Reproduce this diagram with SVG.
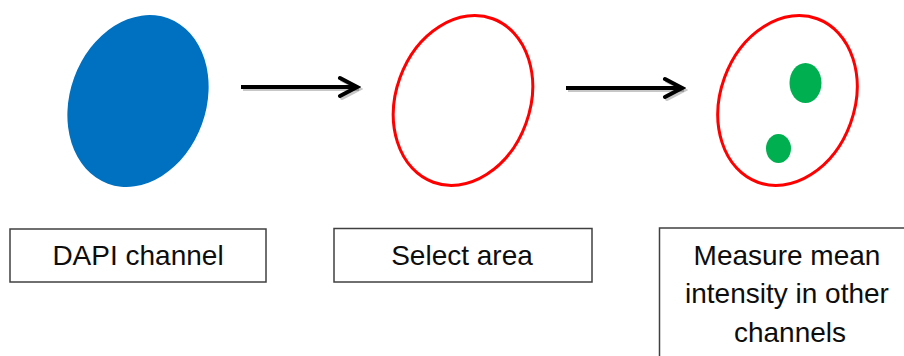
<svg xmlns="http://www.w3.org/2000/svg" width="904" height="356" viewBox="0 0 904 356">
  <defs>
    <marker id="head" viewBox="0 0 24 24" refX="20" refY="12" markerWidth="24" markerHeight="24" markerUnits="userSpaceOnUse" orient="auto">
      <path d="M3,3 L20,12 L3,21" fill="none" stroke="#000" stroke-width="4" stroke-linecap="round" stroke-linejoin="miter"/>
    </marker>
    <marker id="headShadow" viewBox="0 0 24 24" refX="20" refY="12" markerWidth="24" markerHeight="24" markerUnits="userSpaceOnUse" orient="auto">
      <path d="M3,3 L20,12 L3,21" fill="none" stroke="#000" stroke-opacity="0.22" stroke-width="4" stroke-linecap="round" stroke-linejoin="miter"/>
    </marker>
  </defs>
  <style>
    .label { fill: #ffffff; stroke: #404040; stroke-width: 1.5; }
    .txt { font-family: "Liberation Sans", Arial, sans-serif; font-size: 28px; fill: #0d0d0d; text-anchor: middle; }
    .roi { fill: none; stroke: #ff0000; stroke-width: 3; }
    .spot { fill: #00b050; }
    .arrow { stroke: #000; stroke-width: 4; fill: none; marker-end: url(#head); }
    .arrowShadow { stroke: #000; stroke-opacity: 0.22; stroke-width: 4; fill: none; marker-end: url(#headShadow); }
  </style>
  <rect width="904" height="356" fill="#ffffff"/>

  <g id="dapi">
    <ellipse cx="138" cy="101" rx="68" ry="88" transform="rotate(20 138 101)" fill="#0070c0"/>
    <rect class="label" x="10" y="229" width="256" height="53"/>
    <text class="txt" x="138" y="265">DAPI channel</text>
  </g>

  <g id="select">
    <ellipse class="roi" cx="463" cy="100.5" rx="67" ry="87" transform="rotate(20 463 100.5)"/>
    <rect class="label" x="334" y="228.5" width="258" height="53.5"/>
    <text class="txt" x="462" y="265">Select area</text>
  </g>

  <g id="measure">
    <ellipse class="roi" cx="787.5" cy="100.5" rx="67" ry="87" transform="rotate(20 787.5 100.5)"/>
    <ellipse class="spot" cx="805.5" cy="83" rx="16" ry="20"/>
    <ellipse class="spot" cx="778.5" cy="148.5" rx="12.5" ry="14.5"/>
    <rect class="label" x="659.5" y="228" width="260" height="140"/>
    <text class="txt" x="787" y="265">Measure mean</text>
    <text class="txt" x="787" y="303">intensity in other</text>
    <text class="txt" x="790" y="342">channels</text>
  </g>

  <g id="connectors">
    <line class="arrowShadow" x1="243" y1="89" x2="359" y2="89"/>
    <line class="arrow" x1="241" y1="87" x2="357" y2="87"/>
    <line class="arrowShadow" x1="568" y1="90" x2="684" y2="90"/>
    <line class="arrow" x1="566" y1="88" x2="682" y2="88"/>
  </g>
</svg>
